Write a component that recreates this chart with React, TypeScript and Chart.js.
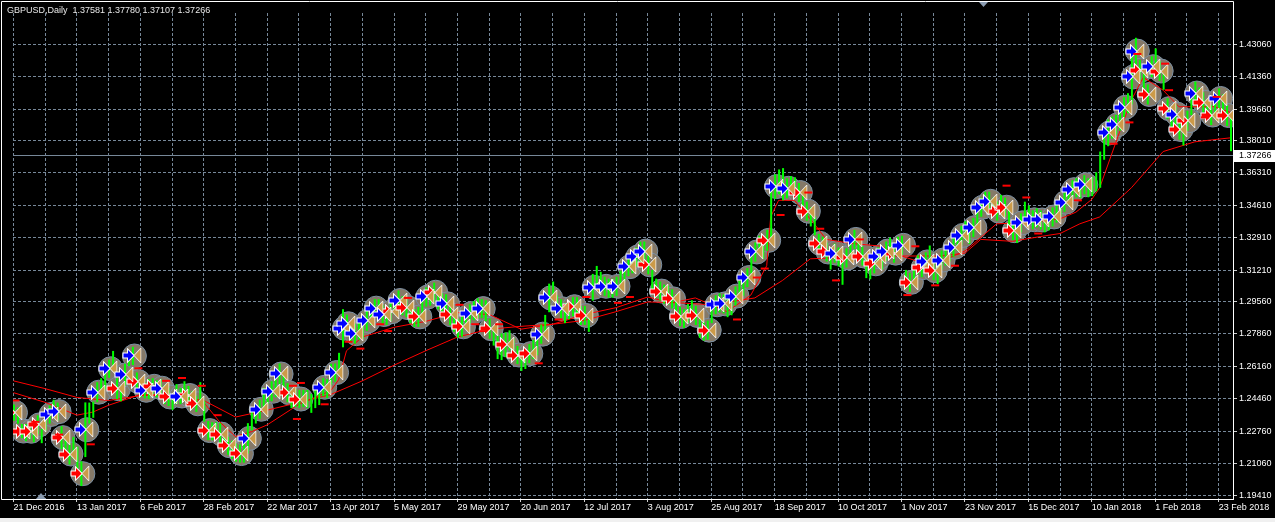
import React, { useEffect, useRef } from 'react';
import { Chart, registerables } from 'chart.js';

Chart.register(...registerables);

// ---------------- data ----------------
const symbolTitle = 'GBPUSD,Daily';
const lastBarOHLC = [1.37581, 1.3778, 1.37107, 1.37266];
const lastPrice = 1.37266;

const dateLabels = [
  '21 Dec 2016', '13 Jan 2017', '6 Feb 2017', '28 Feb 2017', '22 Mar 2017', '13 Apr 2017',
  '5 May 2017', '29 May 2017', '20 Jun 2017', '12 Jul 2017', '3 Aug 2017', '25 Aug 2017',
  '18 Sep 2017', '10 Oct 2017', '1 Nov 2017', '23 Nov 2017', '15 Dec 2017', '10 Jan 2018',
  '1 Feb 2018', '23 Feb 2018',
];
const labelStep = 16;
const gridStep = 8;

const priceTicks = [
  1.4306, 1.4136, 1.3966, 1.3801, 1.3631, 1.3461, 1.3291, 1.3121, 1.2956, 1.2786,
  1.2616, 1.2446, 1.2276, 1.2106, 1.1941,
];

const barHigh = [
  1.2416, 1.24, 1.2314, 1.2313, 1.2318, 1.2298, 1.2359, 1.2288, 1.2395, 1.2411,
  1.2441, 1.2426, 1.2302, 1.2231, 1.2211, 1.2246, 1.2195, 1.2118, 1.2427, 1.2426,
  1.2431, 1.2533, 1.2554, 1.2589, 1.2651, 1.2697, 1.2554, 1.2518, 1.263, 1.2702,
  1.2718, 1.2584, 1.2539, 1.2533, 1.2549, 1.2554, 1.2543, 1.2549, 1.2518, 1.2503,
  1.2472, 1.2523, 1.2503, 1.2538, 1.2513, 1.2487, 1.2462, 1.2533, 1.2436, 1.2329,
  1.2323, 1.2324, 1.2318, 1.2267, 1.2247, 1.2226, 1.2211, 1.2206, 1.2216, 1.2318,
  1.24, 1.2411, 1.2441, 1.2503, 1.2513, 1.2538, 1.2559, 1.2631, 1.2574, 1.2528,
  1.2492, 1.2498, 1.2492, 1.2493, 1.2492, 1.2472, 1.2497, 1.2518, 1.2554, 1.2549,
  1.263, 1.2631, 1.2687, 1.2916, 1.2887, 1.2841, 1.284, 1.2851, 1.2856, 1.2907,
  1.2938, 1.2969, 1.2968, 1.2938, 1.2933, 1.2953, 1.2989, 1.3014, 1.2984, 1.2974,
  1.2943, 1.2917, 1.2928, 1.2968, 1.303, 1.3035, 1.3055, 1.3015, 1.2999, 1.2994,
  1.2938, 1.2892, 1.2866, 1.2876, 1.2907, 1.2943, 1.2958, 1.2973, 1.2969, 1.2963,
  1.2866, 1.282, 1.2779, 1.2789, 1.2794, 1.2805, 1.2764, 1.2723, 1.2692, 1.2702,
  1.2733, 1.2754, 1.2774, 1.2835, 1.2886, 1.305, 1.3061, 1.2989, 1.2968, 1.2948,
  1.2958, 1.2979, 1.2979, 1.2933, 1.2933, 1.2897, 1.3101, 1.3143, 1.3112, 1.3086,
  1.3076, 1.3076, 1.3086, 1.3117, 1.3163, 1.3189, 1.3204, 1.324, 1.327, 1.3271,
  1.3199, 1.3122, 1.3076, 1.3061, 1.3045, 1.304, 1.302, 1.2994, 1.2928, 1.2917,
  1.2943, 1.2963, 1.2933, 1.2866, 1.2851, 1.2856, 1.2943, 1.2989, 1.2999, 1.2994,
  1.2974, 1.2984, 1.3035, 1.3066, 1.3086, 1.3132, 1.3204, 1.3266, 1.3301, 1.3281,
  1.3332, 1.3553, 1.3624, 1.3649, 1.3656, 1.3603, 1.3614, 1.3608, 1.3578, 1.3522,
  1.348, 1.345, 1.3404, 1.3311, 1.3296, 1.3266, 1.3224, 1.326, 1.324, 1.3204,
  1.3235, 1.3306, 1.3332, 1.3276, 1.3245, 1.3179, 1.3173, 1.3204, 1.324, 1.3224,
  1.3271, 1.3291, 1.326, 1.3296, 1.3301, 1.3122, 1.3107, 1.3138, 1.3199, 1.3184,
  1.3214, 1.325, 1.3168, 1.3148, 1.3224, 1.3245, 1.3266, 1.3291, 1.3322, 1.3353,
  1.3378, 1.3358, 1.3394, 1.3455, 1.3501, 1.3532, 1.3532, 1.3501, 1.3481, 1.3516,
  1.3501, 1.3445, 1.3378, 1.3363, 1.3419, 1.348, 1.346, 1.3435, 1.3445, 1.3434,
  1.3419, 1.3429, 1.345, 1.347, 1.3506, 1.3527, 1.3557, 1.3593, 1.3603, 1.3598,
  1.3619, 1.3603, 1.3609, 1.3634, 1.3743, 1.3825, 1.3911, 1.3926, 1.3936, 1.3957,
  1.4028, 1.4049, 1.4279, 1.434, 1.4223, 1.4156, 1.4095, 1.4243, 1.4284, 1.4218,
  1.4172, 1.4023, 1.3962, 1.3992, 1.3911, 1.388, 1.3957, 1.4049, 1.411, 1.4079,
  1.4054, 1.4018, 1.3987, 1.4018, 1.4074, 1.4044, 1.3987, 1.393,
];

const barLow = [
  1.2331, 1.2315, 1.2239, 1.2223, 1.2233, 1.2218, 1.2259, 1.2213, 1.228, 1.2316,
  1.2346, 1.2331, 1.2182, 1.2126, 1.2101, 1.2131, 1.2075, 1.1988, 1.214, 1.2316,
  1.2346, 1.2428, 1.2469, 1.2494, 1.2556, 1.2602, 1.2444, 1.2433, 1.2515, 1.2617,
  1.2623, 1.2489, 1.2454, 1.2448, 1.2444, 1.2469, 1.2453, 1.2454, 1.2418, 1.2408,
  1.2387, 1.2418, 1.2418, 1.2438, 1.2413, 1.2392, 1.2377, 1.2413, 1.2326, 1.2229,
  1.2228, 1.2234, 1.2203, 1.2172, 1.2152, 1.2131, 1.2116, 1.2111, 1.2111, 1.2158,
  1.228, 1.2316, 1.2341, 1.2393, 1.2418, 1.2433, 1.2454, 1.2521, 1.2474, 1.2428,
  1.2397, 1.2403, 1.2397, 1.2403, 1.2397, 1.2372, 1.2397, 1.2413, 1.2459, 1.2449,
  1.252, 1.2536, 1.2572, 1.2716, 1.2792, 1.2741, 1.2735, 1.2756, 1.2761, 1.2802,
  1.2833, 1.2874, 1.2868, 1.2838, 1.2833, 1.2853, 1.2889, 1.2909, 1.2884, 1.2874,
  1.2843, 1.2822, 1.2823, 1.2868, 1.293, 1.2935, 1.2955, 1.2915, 1.2904, 1.2894,
  1.2833, 1.2797, 1.2766, 1.2771, 1.2812, 1.2843, 1.2858, 1.2868, 1.2869, 1.2853,
  1.2761, 1.2725, 1.2654, 1.2649, 1.2664, 1.27, 1.2659, 1.2628, 1.2592, 1.2602,
  1.2633, 1.2654, 1.2674, 1.2735, 1.2781, 1.29, 1.2961, 1.2889, 1.2868, 1.2843,
  1.2863, 1.2879, 1.2879, 1.2833, 1.2833, 1.2797, 1.2961, 1.3048, 1.3012, 1.2986,
  1.2976, 1.2976, 1.2986, 1.3017, 1.3063, 1.3089, 1.3104, 1.314, 1.3165, 1.3171,
  1.3099, 1.3022, 1.2976, 1.2961, 1.2945, 1.294, 1.292, 1.2894, 1.2828, 1.2817,
  1.2843, 1.2863, 1.2833, 1.2766, 1.2751, 1.2756, 1.2843, 1.2889, 1.2899, 1.2894,
  1.2874, 1.2884, 1.2935, 1.2966, 1.2986, 1.3032, 1.3104, 1.3166, 1.3201, 1.3181,
  1.3222, 1.3282, 1.3494, 1.3519, 1.3487, 1.3498, 1.3519, 1.3508, 1.3478, 1.3422,
  1.338, 1.335, 1.3304, 1.3211, 1.3196, 1.3166, 1.3124, 1.316, 1.314, 1.3044,
  1.3135, 1.3206, 1.3232, 1.3176, 1.3145, 1.3079, 1.3073, 1.3104, 1.314, 1.3124,
  1.3171, 1.3191, 1.316, 1.3196, 1.3201, 1.3022, 1.3007, 1.3038, 1.3099, 1.3084,
  1.3114, 1.315, 1.3068, 1.3048, 1.3124, 1.3145, 1.3166, 1.3191, 1.3222, 1.3253,
  1.3278, 1.3258, 1.3294, 1.3355, 1.3401, 1.3432, 1.3432, 1.3401, 1.3381, 1.3416,
  1.3401, 1.3345, 1.3278, 1.3263, 1.3319, 1.338, 1.336, 1.3335, 1.3345, 1.3334,
  1.3319, 1.3329, 1.335, 1.337, 1.3406, 1.3427, 1.3457, 1.3493, 1.3503, 1.3498,
  1.3519, 1.3503, 1.3509, 1.3534, 1.3553, 1.37, 1.3771, 1.3811, 1.3831, 1.3852,
  1.3923, 1.3944, 1.399, 1.42, 1.4118, 1.4051, 1.399, 1.4133, 1.4179, 1.4113,
  1.4067, 1.3913, 1.3857, 1.3887, 1.3806, 1.3775, 1.3852, 1.3934, 1.399, 1.3974,
  1.3949, 1.3913, 1.3882, 1.3913, 1.3969, 1.3939, 1.3877, 1.3745,
];

// 0 = no signal, 1 = buy arrow (blue), 2 = sell arrow (red)
const signal = [
  2, 0, 2, 0, 2, 0, 2, 0, 0, 1, 0, 1, 2, 0, 2, 0, 0, 2, 1, 0,
  0, 1, 0, 0, 1, 0, 2, 0, 1, 0, 1, 2, 0, 1, 0, 2, 0, 1, 0, 2,
  0, 0, 1, 0, 2, 0, 2, 0, 0, 2, 0, 0, 2, 0, 2, 0, 0, 2, 0, 1,
  0, 0, 1, 0, 0, 1, 0, 1, 0, 2, 0, 0, 2, 0, 0, 0, 0, 0, 1, 0,
  0, 1, 0, 1, 1, 0, 1, 0, 0, 1, 0, 1, 0, 1, 0, 2, 0, 1, 0, 2,
  0, 0, 2, 0, 1, 0, 2, 0, 0, 1, 2, 0, 0, 2, 0, 1, 0, 0, 1, 0,
  2, 0, 0, 0, 2, 0, 0, 2, 0, 0, 2, 0, 0, 1, 0, 1, 0, 0, 1, 0,
  0, 2, 0, 0, 2, 0, 1, 0, 0, 1, 0, 0, 1, 0, 0, 1, 0, 1, 0, 1,
  2, 0, 0, 2, 0, 0, 2, 0, 2, 0, 0, 0, 2, 0, 0, 2, 0, 1, 0, 1,
  0, 0, 1, 0, 0, 1, 0, 1, 0, 0, 2, 0, 1, 0, 0, 1, 0, 0, 2, 0,
  2, 0, 0, 2, 0, 2, 0, 1, 0, 0, 2, 0, 1, 0, 2, 0, 0, 2, 1, 0,
  1, 0, 2, 0, 1, 0, 2, 0, 0, 2, 1, 0, 2, 0, 1, 0, 0, 1, 0, 1,
  0, 0, 1, 0, 1, 0, 1, 0, 2, 0, 2, 0, 2, 0, 1, 0, 0, 1, 0, 1,
  0, 0, 1, 0, 0, 1, 0, 1, 0, 0, 1, 0, 0, 0, 0, 0, 1, 0, 1, 0,
  1, 0, 1, 1, 2, 0, 2, 1, 0, 2, 0, 2, 0, 1, 2, 0, 2, 0, 1, 0,
  2, 0, 2, 0, 1, 0, 2, 0,
];

const maFastBar = [
  0, 8, 16, 20, 24, 32, 40, 48, 52, 56, 60, 64, 72, 80, 82, 84, 88, 96, 104, 112,
  120, 128, 136, 144, 152, 160, 166, 172, 180, 186, 190, 191, 193, 197, 202, 205, 211, 219, 224, 230,
  236, 240, 248, 256, 264, 268, 272, 274, 279, 282, 285, 290, 294, 303, 307,
];
const maFastVal = [
  1.2478, 1.2427, 1.236, 1.2376, 1.2412, 1.2468, 1.2468, 1.2427, 1.2325, 1.2248,
  1.2273, 1.2309, 1.2417, 1.2488, 1.2545, 1.2698, 1.277, 1.2821, 1.2852, 1.2898,
  1.2888, 1.2811, 1.2837, 1.2888, 1.2924, 1.298, 1.2949, 1.2975, 1.2903, 1.299,
  1.3144, 1.34, 1.3487, 1.3487, 1.3364, 1.3282, 1.3262, 1.3246, 1.3195, 1.3154,
  1.3185, 1.3221, 1.3364, 1.3369, 1.339, 1.3425, 1.3492, 1.3553, 1.3845, 1.4014,
  1.4132, 1.4065, 1.3978, 1.3978, 1.3948,
];

const maSlowBar = [
  0, 8, 16, 24, 32, 40, 48, 56, 64, 72, 80, 88, 96, 104, 112, 120, 128, 136, 144, 152,
  160, 168, 176, 187, 194, 201, 217, 234, 240, 244, 252, 259, 264, 269, 274, 282, 290, 298, 307,
];
const maSlowVal = [
  1.254, 1.2499, 1.2453, 1.2437, 1.2463, 1.2463, 1.2437, 1.235, 1.2386, 1.2427,
  1.2468, 1.254, 1.2622, 1.2698, 1.277, 1.2811, 1.2826, 1.2837, 1.2857, 1.2903,
  1.2954, 1.2949, 1.2939, 1.2975, 1.3067, 1.318, 1.3195, 1.3195, 1.321, 1.3282,
  1.3272, 1.3297, 1.3313, 1.3364, 1.34, 1.3553, 1.3743, 1.3794, 1.3815,
];

const dashBar = [
  0, 5, 11, 19, 31, 38, 42, 47, 51, 70, 71, 72, 78, 84, 87, 92, 94, 99, 112, 116,
  118, 122, 132, 137, 144, 152, 155, 182, 187, 189, 193, 200, 203, 207, 213, 225, 227, 232, 237, 250,
  255, 258, 268, 277, 281, 283, 290, 291, 300, 303,
];
const dashVal = [
  1.2437, 1.2325, 1.2258, 1.2207, 1.2606, 1.254, 1.2555, 1.2514, 1.236, 1.2514,
  1.234, 1.2529, 1.2417, 1.2745, 1.2709, 1.2837, 1.2801, 1.2975, 1.2939, 1.2837,
  1.2801, 1.2837, 1.2632, 1.2862, 1.298, 1.2949, 1.298, 1.2862, 1.3082, 1.3129,
  1.341, 1.3528, 1.3338, 1.3067, 1.3282, 1.299, 1.3246, 1.3041, 1.3144, 1.3564,
  1.3502, 1.3313, 1.3487, 1.3784, 1.3896, 1.4255, 1.4204, 1.4065, 1.3922, 1.403,
];

// ---------------- appearance ----------------
const W = 1275;
const H = 518;
const BG = '#000000';
const GRID = '#778899';
const FG = '#ffffff';
const FONT = '"Liberation Sans", Arial, sans-serif';
const yMin = 1.192012;
const yMax = 1.446988;
const xMin = -0.125;
const xMax = -0.125 + 1231 / 4;

function poly(g: CanvasRenderingContext2D, pts: number[][]) {
  g.beginPath();
  g.moveTo(pts[0][0], pts[0][1]);
  for (let i = 1; i < pts.length; i++) g.lineTo(pts[i][0], pts[i][1]);
  g.closePath();
}

function makeGlyph(color: string): HTMLCanvasElement {
  const c = document.createElement('canvas');
  c.width = 21;
  c.height = 15;
  const g = c.getContext('2d') as CanvasRenderingContext2D;
  g.lineJoin = 'miter';
  const arrow = [[1.5, 5.5], [6, 5.5], [6, 2], [11.5, 7.5], [6, 13], [6, 9.5], [1.5, 9.5]];
  poly(g, arrow);
  g.strokeStyle = '#ffffff';
  g.lineWidth = 2;
  g.stroke();
  g.fillStyle = color;
  g.fill();
  const tri = [[12.5, 7.5], [18.5, 1], [18.5, 14]];
  poly(g, tri);
  g.strokeStyle = '#f4f4f4';
  g.lineWidth = 1.5;
  g.stroke();
  g.fillStyle = '#cc9a48';
  g.fill();
  return c;
}

const mtPlugin = {
  id: 'mtDecor',
  beforeDraw(chart: any) {
    const ctx = chart.ctx;
    ctx.save();
    ctx.fillStyle = BG;
    ctx.fillRect(0, 0, chart.width, chart.height);
    ctx.restore();
  },
  beforeDatasetsDraw(chart: any) {
    const ctx = chart.ctx;
    const a = chart.chartArea;
    const py = Math.round(chart.scales.y.getPixelForValue(lastPrice)) + 0.5;
    ctx.save();
    ctx.strokeStyle = GRID;
    ctx.lineWidth = 1;
    ctx.beginPath();
    ctx.moveTo(a.left, py);
    ctx.lineTo(a.right, py);
    ctx.stroke();
    ctx.restore();
    ctx.imageSmoothingEnabled = false;
  },
  afterDraw(chart: any) {
    const ctx = chart.ctx;
    const a = chart.chartArea;
    ctx.save();
    ctx.strokeStyle = FG;
    ctx.lineWidth = 1;
    ctx.beginPath();
    ctx.moveTo(1.5, 1.5);
    ctx.lineTo(a.right + 0.5, 1.5);
    ctx.lineTo(a.right + 0.5, a.bottom + 0.5);
    ctx.lineTo(1.5, a.bottom + 0.5);
    ctx.closePath();
    ctx.stroke();
    ctx.fillStyle = '#e8e8e8';
    ctx.font = '9px ' + FONT;
    ctx.textBaseline = 'alphabetic';
    ctx.textAlign = 'left';
    ctx.fillText(symbolTitle + '  ' + lastBarOHLC.map((v) => v.toFixed(5)).join(' '), 7, 13);
    const py = Math.round(chart.scales.y.getPixelForValue(lastPrice));
    ctx.fillStyle = '#ffffff';
    ctx.fillRect(a.right + 1, py - 5, chart.width - a.right - 1, 12);
    ctx.fillStyle = '#000000';
    ctx.textBaseline = 'middle';
    ctx.fillText(lastPrice.toFixed(5), a.right + 6, py + 1);
    ctx.fillStyle = '#8a9bb0';
    ctx.beginPath();
    ctx.moveTo(979, 2);
    ctx.lineTo(988, 2);
    ctx.lineTo(983.5, 7);
    ctx.closePath();
    ctx.fill();
    ctx.beginPath();
    ctx.moveTo(36, a.bottom);
    ctx.lineTo(46, a.bottom);
    ctx.lineTo(41, a.bottom - 6);
    ctx.closePath();
    ctx.fill();
    ctx.restore();
  },
};

export default function App() {
  const ref = useRef<HTMLCanvasElement | null>(null);

  useEffect(() => {
    const canvas = ref.current;
    if (!canvas) return;
    Chart.defaults.font.family = FONT;
    Chart.defaults.font.size = 9;

    const mid = barHigh.map((h, i) => (h + barLow[i]) / 2);
    const sigCircles: any[] = [];
    const sigBuy: any[] = [];
    const sigSell: any[] = [];
    signal.forEach((s, i) => {
      if (!s) return;
      sigCircles.push({ x: i + 0.5, y: mid[i] });
      (s === 1 ? sigBuy : sigSell).push({ x: i, y: mid[i] });
    });

    const buyGlyph = makeGlyph('#0000ff');
    const sellGlyph = makeGlyph('#ff0000');

    const gridTicks: number[] = [];
    for (let v = 0; v <= xMax; v += gridStep) gridTicks.push(v);

    const chart = new Chart(canvas, {
      type: 'scatter',
      data: {
        datasets: [
          {
            type: 'scatter',
            label: 'dash',
            data: dashBar.map((b, i) => ({ x: b + 0.5, y: dashVal[i] })),
            pointStyle: 'line',
            pointRadius: 4,
            pointBorderWidth: 2,
            borderColor: '#ff0000',
            backgroundColor: '#ff0000',
            order: 0,
          } as any,
          {
            type: 'scatter',
            label: 'buy',
            data: sigBuy,
            pointStyle: buyGlyph,
            pointRadius: 5,
            order: 1,
          } as any,
          {
            type: 'scatter',
            label: 'sell',
            data: sigSell,
            pointStyle: sellGlyph,
            pointRadius: 5,
            order: 1,
          } as any,
          {
            type: 'bar',
            label: 'bars',
            data: barHigh.map((h, i) => ({ x: i + 0.125, y: [barLow[i], h] })),
            backgroundColor: '#00ff00',
            borderWidth: 0,
            barThickness: 2,
            inflateAmount: 0,
            grouped: false,
            order: 2,
          } as any,
          {
            type: 'line',
            label: 'maFast',
            data: maFastBar.map((b, i) => ({ x: b, y: maFastVal[i] })),
            borderColor: '#ff0000',
            borderWidth: 1,
            pointRadius: 0,
            fill: false,
            tension: 0,
            order: 3,
          } as any,
          {
            type: 'line',
            label: 'maSlow',
            data: maSlowBar.map((b, i) => ({ x: b, y: maSlowVal[i] })),
            borderColor: '#ff0000',
            borderWidth: 1,
            pointRadius: 0,
            fill: false,
            tension: 0,
            order: 3,
          } as any,
          {
            type: 'scatter',
            label: 'circles',
            data: sigCircles,
            pointStyle: 'circle',
            pointRadius: 12,
            pointBorderWidth: 1,
            backgroundColor: '#857968',
            borderColor: '#7b8fa3',
            order: 4,
          } as any,
        ],
      },
      options: {
        responsive: false,
        animation: false,
        devicePixelRatio: 1,
        events: [],
        layout: { padding: { left: 2, top: 1, right: 0, bottom: 0 } },
        plugins: {
          legend: { display: false },
          tooltip: { enabled: false },
          title: { display: false },
        },
        scales: {
          x: {
            type: 'linear',
            position: 'bottom',
            min: xMin,
            max: xMax,
            offset: false,
            grid: {
              offset: false,
              color: GRID,
              lineWidth: 1,
              drawTicks: true,
              tickLength: 3,
              tickColor: (c: any) =>
                c.tick && c.tick.value % labelStep === 0 ? '#d0d0d0' : 'rgba(0,0,0,0)',
            },
            border: { display: true, color: FG, dash: [3, 2], width: 1 },
            ticks: {
              color: FG,
              align: 'start',
              padding: 0,
              maxRotation: 0,
              autoSkip: false,
              font: { size: 9, family: FONT },
              callback: (v: any) => {
                const n = Number(v);
                return n % labelStep === 0 ? dateLabels[n / labelStep] || '' : '';
              },
            },
            afterBuildTicks: (s: any) => {
              s.ticks = gridTicks.map((v) => ({ value: v }));
            },
            afterFit: (s: any) => {
              s.height = H - 499;
            },
          },
          y: {
            type: 'linear',
            position: 'right',
            min: yMin,
            max: yMax,
            grid: { color: GRID, lineWidth: 1, tickLength: 4, tickColor: '#d0d0d0' },
            border: { display: true, color: FG, dash: [3, 2], width: 1 },
            ticks: {
              color: FG,
              padding: 2,
              autoSkip: false,
              font: { size: 9, family: FONT },
              callback: (v: any) => Number(v).toFixed(5),
            },
            afterBuildTicks: (s: any) => {
              s.ticks = priceTicks.map((v) => ({ value: v }));
            },
            afterFit: (s: any) => {
              s.width = W - 1233;
            },
          },
        },
      } as any,
      plugins: [mtPlugin as any],
    });

    return () => chart.destroy();
  }, []);

  return (
    <div
      style={{
        position: 'fixed',
        left: 0,
        top: 0,
        width: W,
        height: 522,
        background: '#f0f0f0',
        overflow: 'hidden',
      }}
    >
      <canvas ref={ref} width={W} height={H} style={{ display: 'block', width: W, height: H }} />
    </div>
  );
}
